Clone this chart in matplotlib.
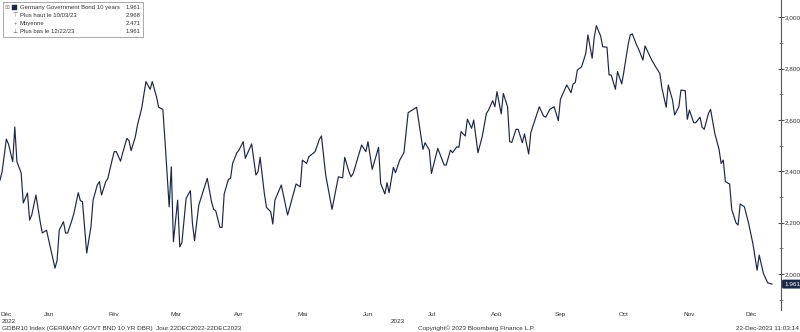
import numpy as np
import pandas as pd
import matplotlib

matplotlib.use("Agg")
import matplotlib.pyplot as plt
from matplotlib.ticker import FixedLocator, MultipleLocator, FuncFormatter

# GDBR10 daily yield, days counted from 22 Dec 2022
START = pd.Timestamp("2022-12-22")
days = [
    0, 1, 3, 4, 6, 7, 8, 10, 11, 13, 14, 15, 17, 19, 20, 22, 26, 27, 28, 30,
    31, 32, 34, 35, 37, 38, 39, 41, 43, 44, 46, 47, 48, 50, 51, 53, 54, 55, 57, 58,
    60, 61, 62, 64, 65, 67, 69, 71, 72, 74, 75, 77, 78, 80, 81, 82, 84, 85, 86, 88,
    90, 91, 92, 94, 98, 100, 101, 102, 104, 105, 106, 108, 109, 110, 112, 113, 115, 116, 119, 121,
    122, 123, 125, 126, 128, 129, 130, 133, 136, 140, 142, 143, 145, 146, 148, 149, 151, 152, 154, 157,
    160, 162, 163, 165, 166, 167, 171, 173, 174, 176, 179, 180, 182, 183, 184, 186, 187, 189, 191, 193,
    197, 200, 201, 203, 204, 207, 210, 211, 213, 214, 216, 217, 218, 220, 221, 223, 224, 226, 228, 230,
    231, 233, 234, 235, 237, 238, 240, 241, 242, 244, 245, 247, 248, 250, 251, 255, 257, 258, 260, 262,
    264, 265, 268, 270, 271, 272, 273, 275, 277, 278, 280, 281, 282, 284, 285, 287, 288, 289, 291, 292,
    294, 295, 297, 298, 299, 301, 302, 304, 305, 308, 310, 312, 313, 315, 316, 318, 319, 321, 322, 324,
    325, 326, 328, 329, 331, 332, 333, 335, 336, 338, 340, 341, 342, 343, 345, 346, 348, 349, 350, 352,
    354, 356, 358, 359, 361, 363, 365,
]
yields = [
    2.366, 2.399, 2.526, 2.507, 2.438, 2.573, 2.438, 2.394, 2.277, 2.316, 2.210, 2.230, 2.308, 2.204, 2.160, 2.171, 2.023, 2.054, 2.171, 2.204,
    2.160, 2.160, 2.210, 2.238, 2.317, 2.286, 2.282, 2.082, 2.184, 2.288, 2.347, 2.360, 2.308, 2.360, 2.373, 2.444, 2.477, 2.477, 2.440, 2.472,
    2.529, 2.520, 2.481, 2.535, 2.581, 2.646, 2.750, 2.720, 2.750, 2.691, 2.650, 2.642, 2.522, 2.262, 2.418, 2.126, 2.288, 2.106, 2.122, 2.295,
    2.325, 2.197, 2.130, 2.269, 2.373, 2.282, 2.252, 2.247, 2.182, 2.182, 2.312, 2.369, 2.373, 2.431, 2.473, 2.483, 2.516, 2.451, 2.507, 2.386,
    2.399, 2.455, 2.314, 2.260, 2.243, 2.195, 2.288, 2.347, 2.230, 2.351, 2.340, 2.444, 2.431, 2.457, 2.470, 2.477, 2.525, 2.538, 2.386, 2.252,
    2.379, 2.375, 2.455, 2.399, 2.379, 2.392, 2.503, 2.477, 2.516, 2.408, 2.494, 2.353, 2.312, 2.356, 2.317, 2.416, 2.395, 2.444, 2.473, 2.629,
    2.650, 2.486, 2.512, 2.483, 2.392, 2.490, 2.425, 2.425, 2.483, 2.473, 2.496, 2.494, 2.555, 2.538, 2.604, 2.568, 2.600, 2.473, 2.535, 2.626,
    2.639, 2.676, 2.652, 2.711, 2.624, 2.704, 2.652, 2.516, 2.513, 2.564, 2.564, 2.512, 2.546, 2.468, 2.551, 2.652, 2.616, 2.611, 2.642, 2.652,
    2.598, 2.681, 2.737, 2.707, 2.741, 2.746, 2.795, 2.808, 2.860, 2.932, 2.841, 2.923, 2.968, 2.928, 2.886, 2.884, 2.776, 2.776, 2.720, 2.789,
    2.741, 2.789, 2.893, 2.932, 2.936, 2.893, 2.876, 2.834, 2.889, 2.837, 2.808, 2.782, 2.724, 2.650, 2.737, 2.678, 2.620, 2.652, 2.717, 2.715,
    2.603, 2.639, 2.590, 2.590, 2.611, 2.572, 2.564, 2.626, 2.642, 2.548, 2.486, 2.431, 2.444, 2.360, 2.351, 2.252, 2.200, 2.191, 2.273, 2.262,
    2.197, 2.119, 2.015, 2.074, 2.002, 1.966, 1.961,
]

months = ["Déc", "Jan", "Fév", "Mar", "Avr", "Mai", "Jun", "Jul", "Aoû", "Sep", "Oct", "Nov", "Déc"]
month_dates = ["2022-12-25", "2023-01-14", "2023-02-14", "2023-03-15", "2023-04-14", "2023-05-14",
               "2023-06-14", "2023-07-14", "2023-08-14", "2023-09-13", "2023-10-13", "2023-11-13",
               "2023-12-12"]

legend_rows = [
    ("Germany Government Bond 10 years", "1.961"),
    ("Plus haut le 10/03/23", "2.968"),
    ("Moyenne", "2.471"),
    ("Plus bas le 12/22/23", "1.961"),
]

NAVY = "#1b2746"
TXT = "#333333"
FS = 4.6
LFS = 4.3

plt.rcParams["font.family"] = ["Liberation Sans", "DejaVu Sans"]

fig = plt.figure(figsize=(8.0, 3.32), dpi=100)
ax = fig.add_axes([0.0, 22 / 332, 781 / 800, 310 / 332])

ax.plot(days, yields, color=NAVY, lw=0.85)

ax.set_xlim(0, 369.3)
ax.set_ylim(1.860, 3.068)

for s in ("top", "left", "bottom"):
    ax.spines[s].set_visible(False)
ax.spines["right"].set_color("#555555")
ax.spines["right"].set_linewidth(0.8)

ax.yaxis.tick_right()
ax.yaxis.set_major_locator(FixedLocator(np.arange(2.0, 3.01, 0.2)))
ax.yaxis.set_minor_locator(MultipleLocator(0.1))
ax.yaxis.set_major_formatter(FuncFormatter(lambda v, p: f"{v:.3f}".replace(".", ",")))
ax.tick_params(axis="y", which="major", direction="inout", length=4, width=0.8,
               colors="#555555", labelsize=FS, pad=1, labelcolor=TXT)
ax.tick_params(axis="y", which="minor", direction="inout", length=3, width=0.6, colors="#777777")

month_pos = [(pd.Timestamp(d) - START).days for d in month_dates]
ax.set_xticks(month_pos)
ax.set_xticklabels(months)
ax.tick_params(axis="x", length=0, labelsize=FS, pad=1.5, labelcolor=TXT)

# year markers under the axis
ax.text(0.002, -0.028, "2022", transform=ax.transAxes, fontsize=FS, color=TXT,
        ha="left", va="top")
ax.text(398 / 781, -0.028, "2023", transform=ax.transAxes, fontsize=FS, color=TXT,
        ha="center", va="top")

# last value tag
ax.annotate(f"{yields[-1]:.3f}", xy=(1.0, yields[-1]), xycoords=("axes fraction", "data"),
            xytext=(2.2, 0), textcoords="offset points", fontsize=FS, color="white",
            ha="left", va="center", annotation_clip=False,
            bbox=dict(boxstyle="round,pad=0.2,rounding_size=0.12", fc=NAVY, ec=NAVY))

# legend box
fig.patches.append(plt.Rectangle((3 / 800, 1 - 37 / 332), 140 / 800, 35 / 332,
                                 transform=fig.transFigure, fc="white", ec="#9a9a9a", lw=0.6))
fig.patches.append(plt.Rectangle((11.5 / 800, 1 - 10 / 332), 5 / 800, 5 / 332,
                                 transform=fig.transFigure, fc=NAVY, ec=NAVY, lw=0.3))
fig.text(7 / 800, 1 - 7.5 / 332, "\u229e", fontsize=LFS, color="#888888", va="center", ha="center")
markers = ["", "\u22a4", "+", "\u22a5"]
for i, (label, val) in enumerate(legend_rows):
    y = 1 - (7.5 + i * 8) / 332
    fig.text(19.5 / 800, y, label, fontsize=LFS, color=TXT, va="center", ha="left")
    fig.text(141 / 800, y, val, fontsize=LFS, color=TXT, va="center", ha="right")
    if markers[i]:
        fig.text(15 / 800, y, markers[i], fontsize=LFS, color="#666666", va="center", ha="center")

# footer
fig.text(2 / 800, 1 / 332, "GDBR10 Index (GERMANY GOVT BND 10 YR DBR)  Jour 22DEC2022-22DEC2023",
         fontsize=FS, color=TXT, va="bottom", ha="left")
fig.text(418 / 800, 1 / 332, "Copyright\u00a9 2023 Bloomberg Finance L.P.",
         fontsize=FS, color=TXT, va="bottom", ha="left")
fig.text(799 / 800, 1 / 332, "22-Dec-2023 11:03:14",
         fontsize=FS, color=TXT, va="bottom", ha="right")

fig.savefig("out.png", dpi=100, facecolor="white")
